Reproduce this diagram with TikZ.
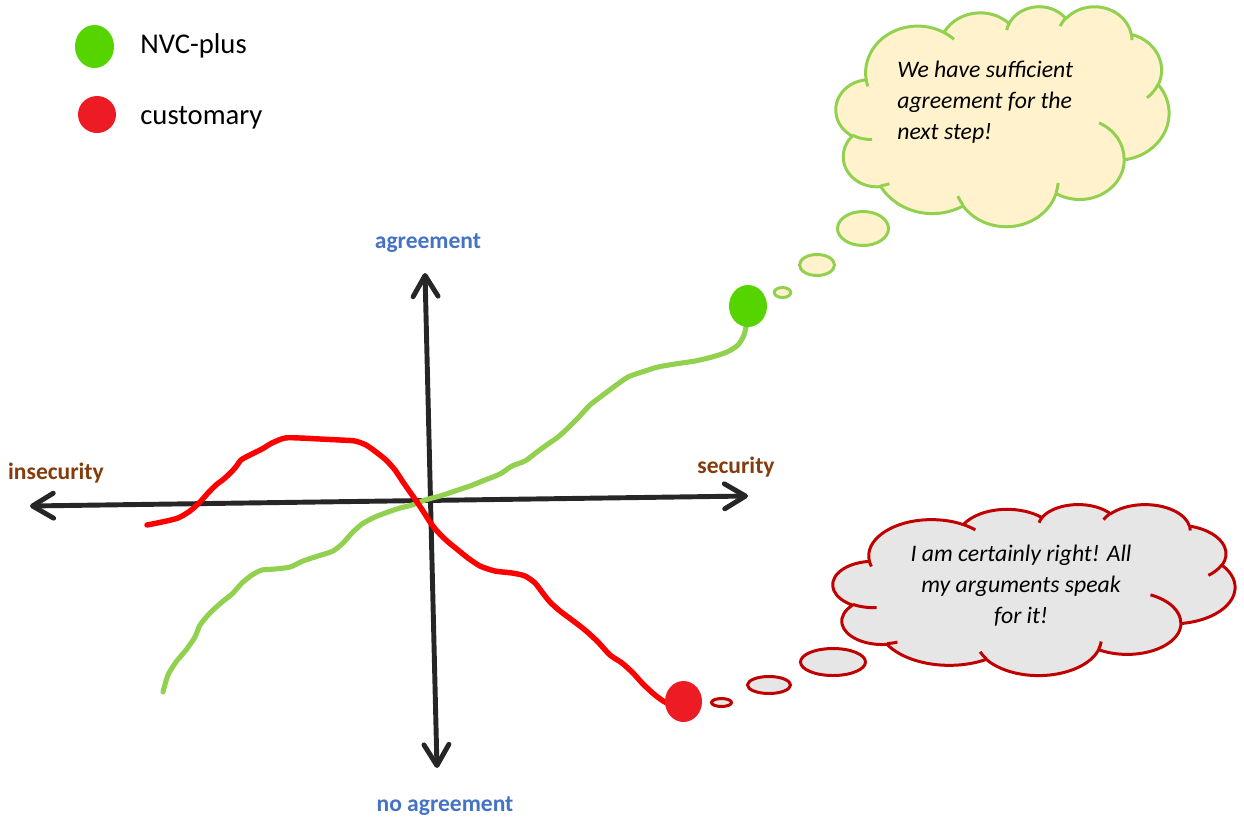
\documentclass[tikz,border=0pt]{standalone}
\usepackage{fontspec}
\setmainfont{Carlito}
\usetikzlibrary{arrows.meta,shapes.geometric}
\definecolor{axisblack}{HTML}{262626}
\definecolor{lblblue}{HTML}{4472C4}
\definecolor{lblbrown}{HTML}{843C0C}
\definecolor{lightgreen}{HTML}{92D050}
\definecolor{dotgreen}{HTML}{55D400}
\definecolor{dotred}{HTML}{ED1C24}
\definecolor{curvered}{HTML}{FF0000}
\definecolor{cloudyellow}{HTML}{FFF2CC}
\definecolor{darkred}{HTML}{C00000}
\definecolor{cloudgrey}{HTML}{E6E6E6}
\makeatletter
\newcommand\defcloudarc[5]{%
  \pgfmathsetmacro\cl@s{atan2((#2)*sin(#4),(#3)*cos(#4))}%
  \pgfmathsetmacro\cl@e{atan2((#2)*sin((#4)+(#5)),(#3)*cos((#4)+(#5)))}%
  \pgfmathsetmacro\cl@d{(\cl@e)-(\cl@s)-(#5)}%
  \pgfmathsetmacro\cl@d{(#5)+(\cl@d)-360*round((\cl@d)/360)}%
  \expandafter\xdef\csname #1\endcsname{arc[x radius=#2,y radius=#3,start angle=\cl@s,delta angle=\cl@d]}%
}
\makeatother
\defcloudarc{cloudmA}{6.753}{9.19}{-190.48748}{123.78053}
\defcloudarc{cloudmB}{5.333}{7.267}{-144.10238}{89.94523}
\defcloudarc{cloudmC}{4.365}{5.945}{-145.80792}{99.72302}
\defcloudarc{cloudmD}{4.857}{6.595}{-130.98607}{117.24173}
\defcloudarc{cloudmE}{5.333}{7.273}{-78.70888}{109.02692}
\defcloudarc{cloudmF}{6.775}{9.22}{-46.26725}{130.269}
\defcloudarc{cloudmG}{5.785}{7.867}{0.62502}{114.03333}
\defcloudarc{cloudmH}{6.752}{9.215}{22.4516}{115.17255}
\defcloudarc{cloudmI}{7.72}{10.543}{66.24263}{75.71102}
\defcloudarc{cloudmJ}{4.36}{5.918}{-274.94208}{146.73557}
\defcloudarc{cloudmK}{4.345}{5.945}{-246.8285}{152.51885}
\defcloudarc{cloudsA}{4.345}{5.945}{86.742}{26.4295}
\defcloudarc{cloudsB}{4.36}{5.918}{73.61047}{11.44747}
\defcloudarc{cloudsC}{6.752}{9.215}{137.62415}{14.0811}
\defcloudarc{cloudsD}{6.752}{9.215}{6.45327}{15.99835}
\defcloudarc{cloudsE}{5.785}{7.867}{-70.29235}{70.91737}
\defcloudarc{cloudsF}{5.333}{7.273}{30.31803}{27.7515}
\defcloudarc{cloudsG}{4.857}{6.595}{-13.74433}{14.8589}
\defcloudarc{cloudsH}{4.857}{6.595}{-149.18145}{18.19537}
\defcloudarc{cloudsI}{4.365}{5.945}{-163.49427}{17.68635}
\defcloudarc{cloudsJ}{6.753}{9.19}{-66.70695}{12.31935}
\defcloudarc{cloudsK}{6.753}{9.19}{157.65435}{11.85817}
\newcommand\cloudoutline{(3.9,14.37) \cloudmA \cloudmB \cloudmC \cloudmD \cloudmE \cloudmF \cloudmG \cloudmH \cloudmI \cloudmJ \cloudmK -- cycle}
\newcommand\cloudinner{(4.693,26.177) \cloudsA (6.928,34.899) \cloudsB (16.478,39.09) \cloudsC (28.827,34.751) \cloudsD (34.129,22.954) \cloudsE (41.798,15.354) \cloudsF (38.324,5.426) \cloudsG (29.078,3.952) \cloudsH (22.141,4.72) \cloudsI (14.0,5.192) \cloudsJ (4.127,15.789) \cloudsK}
\tikzset{
  axisline/.style={draw=axisblack, line width=2.8pt, line cap=round,
    {Straight Barb[length=0.42cm,width=0.5cm,round]}-{Straight Barb[length=0.42cm,width=0.5cm,round]}},
  axislabel/.style={font=\fontsize{13.4pt}{16pt}\selectfont\bfseries, anchor=base, inner sep=0pt},
  legendtext/.style={font=\fontsize{16.3pt}{19pt}\selectfont, anchor=base west, inner sep=0pt},
  thought/.style={font=\fontsize{13.5pt}{17.6pt}\selectfont\itshape, inner sep=0pt},
  dot/.style={ellipse, inner sep=0pt, draw=none},
  bubble/.style={ellipse, inner sep=0pt, line width=1.7pt},
  cloudline/.style={line width=1.7pt, line join=round},
  greencurve/.style={draw=lightgreen, line width=2.9pt, line cap=round, line join=round},
  redcurve/.style={draw=curvered, line width=3.1pt, line cap=round, line join=round}
}
\begin{document}
\begin{tikzpicture}[x=0.02cm, y=-0.02cm]
\useasboundingbox (0,0) rectangle (1244,819);
% legend
\node[dot, fill=dotgreen, minimum width=0.78cm, minimum height=0.86cm] (lg) at (94.5,46.5) {};
\node[legendtext] (lgt) at (140,53) {NVC-plus};
\node[dot, fill=dotred, minimum width=0.76cm, minimum height=0.74cm] (lr) at (97,114.5) {};
\node[legendtext] (lrt) at (140,124) {customary};
% axes
\coordinate (xl) at (30,506);
\coordinate (xr) at (748,496);
\coordinate (yt) at (425,273);
\coordinate (yb) at (437,768);
\draw[axisline] (xl) -- (xr);
\draw[axisline] (yb) -- (yt);
\node[axislabel, text=lblblue] (agr) at (428,248) {agreement};
\node[axislabel, text=lblblue] (noagr) at (445,811.5) {no agreement};
\node[axislabel, text=lblbrown] (insec) at (56,479) {insecurity};
\node[axislabel, text=lblbrown] (sec) at (736,473) {security};
% curves
\draw[greencurve] plot[smooth, tension=0.45] coordinates {
(163,692) (168,675) (176,662) (186,650) (195,637) (200,625) (210,613) (222,602) (232,594) (242,583) (252,575) (262,570) (275,569) (290,567) (303,561) (318,556) (333,551) (343,543) (352,533) (362,524) (375,517) (388,512) (400,508) (412,505) (425,500) (440,496) (455,491) (470,486) (485,480) (500,474) (512,466) (525,461) (537,452) (548,444) (558,437) (568,428) (578,418) (590,405) (603,395) (615,386) (628,377) (642,372) (658,367) (675,364) (695,361) (712,357) (727,352) (738,345) (744,335) (747,322)};
\draw[redcurve] plot[smooth, tension=0.45] coordinates {
(147,525) (162,522) (178,518) (190,511) (200,502) (208,493) (216,485) (225,478) (235,468) (241,460) (250,455) (262,449) (272,443) (285,438) (300,438) (320,439) (340,440) (355,441) (366,445) (376,452) (386,460) (395,470) (403,482) (410,492) (417,502) (423,511) (430,522) (437,531) (447,541) (458,550) (468,558) (480,566) (495,571) (512,573) (525,576) (535,583) (542,592) (550,602) (560,611) (572,620) (585,630) (598,642) (610,655) (622,663) (633,673) (643,684) (655,695) (667,703) (680,703)};
\node[dot, fill=dotgreen, minimum width=0.76cm, minimum height=0.84cm] (gend) at (748,306) {};
\node[dot, fill=dotred, minimum width=0.74cm, minimum height=0.82cm] (rend) at (683.5,701.5) {};
% green thought
\node[bubble, draw=lightgreen, fill=cloudyellow, minimum width=0.33cm, minimum height=0.2cm] (gb1) at (782.5,292.5) {};
\node[bubble, draw=lightgreen, fill=cloudyellow, minimum width=0.70cm, minimum height=0.42cm] (gb2) at (817,265) {};
\node[bubble, draw=lightgreen, fill=cloudyellow, minimum width=1.02cm, minimum height=0.68cm] (gb3) at (863,228.5) {};
\begin{scope}[shift={(836,6)}, x=0.15417cm, y=-0.10185cm]
  \draw[cloudline, draw=lightgreen, fill=cloudyellow] \cloudoutline;
  \draw[cloudline, draw=lightgreen] \cloudinner;
\end{scope}
\node[thought, anchor=base west, align=left] (gtext) at (897,139) {We have sufficient\\agreement for the\\next step!};
% red thought
\node[bubble, draw=darkred, fill=cloudgrey, minimum width=0.40cm, minimum height=0.16cm] (rb1) at (721.5,702.5) {};
\node[bubble, draw=darkred, fill=cloudgrey, minimum width=0.86cm, minimum height=0.34cm] (rb2) at (769,685) {};
\node[bubble, draw=darkred, fill=cloudgrey, minimum width=1.30cm, minimum height=0.54cm] (rb3) at (833,662) {};
\begin{scope}[shift={(833,504)}, x=0.18611cm, y=-0.07917cm]
  \draw[cloudline, draw=darkred, fill=cloudgrey] \cloudoutline;
  \draw[cloudline, draw=darkred] \cloudinner;
\end{scope}
\node[thought, anchor=base, align=center] (rtext) at (1021,623) {I am certainly right! All\\my arguments speak\\for it!};
\end{tikzpicture}
\end{document}
